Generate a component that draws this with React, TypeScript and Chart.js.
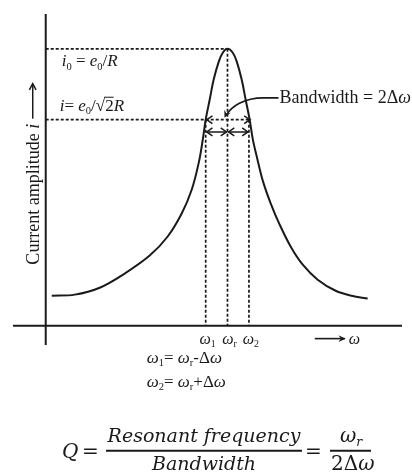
import React, { useEffect, useRef } from "react";
import { Chart, registerables } from "chart.js";

Chart.register(...registerables);

// ---- data ----
const curveX = [3.3, 16.0, 29.7, 43.4, 57.2, 67.1, 74.8, 80.3, 84.2, 86.4, 88.0, 90.2, 92.4, 95.2, 97.4, 100, 102.9, 105.1, 107.8, 110.0, 112.2, 113.9, 116.1, 119.4, 123.8, 128.7, 134.8, 141.4, 149.6, 159.5, 168.3, 177.1];
const curveY = [10.8, 11.2, 13.7, 18.8, 25.3, 32.2, 40.5, 49.1, 58.9, 67.2, 74.4, 81.6, 88.9, 95.4, 98.6, 100, 98.6, 95.4, 88.9, 81.6, 74.4, 67.4, 61.1, 52.4, 44.1, 36.5, 28.5, 22.0, 16.6, 12.6, 10.8, 9.8];
const omegaValues = [88, 100, 111.8];
const omegaSubs = ["1", "r", "2"];
const peakValue = 100;
const halfValue = 74.4;
const arrowRowValue = 70;
const xRange = [-18, 196];
const yRange = [-7, 112.6];

const SERIF = "'Liberation Serif', 'Times New Roman', serif";
const INK = "#1a1a1a";

type Part = { t: string; it?: boolean; sub?: boolean; font?: string };

function partFont(p: Part, size: number, fam: string) {
  const s = p.sub ? size * 0.62 : size;
  return `${p.it ? "italic " : ""}${s}px ${p.font || fam}`;
}
function measureRich(ctx: CanvasRenderingContext2D, parts: Part[], size: number, fam = SERIF) {
  let w = 0;
  for (const p of parts) {
    ctx.font = partFont(p, size, fam);
    w += ctx.measureText(p.t).width;
  }
  return w;
}
function drawRich(ctx: CanvasRenderingContext2D, x: number, y: number, parts: Part[], size: number, fam = SERIF) {
  ctx.textBaseline = "alphabetic";
  ctx.textAlign = "left";
  for (const p of parts) {
    ctx.font = partFont(p, size, fam);
    ctx.fillText(p.t, x, y + (p.sub ? size * 0.22 : 0));
    x += ctx.measureText(p.t).width;
  }
  return x;
}
function chevron(ctx: CanvasRenderingContext2D, x: number, y: number, ang: number, len = 7, spread = 0.6) {
  ctx.beginPath();
  ctx.moveTo(x - len * Math.cos(ang - spread), y - len * Math.sin(ang - spread));
  ctx.lineTo(x, y);
  ctx.lineTo(x - len * Math.cos(ang + spread), y - len * Math.sin(ang + spread));
  ctx.stroke();
}
function filledHead(ctx: CanvasRenderingContext2D, x: number, y: number, ang: number, len = 8, spread = 0.4) {
  ctx.beginPath();
  ctx.moveTo(x, y);
  ctx.lineTo(x - len * Math.cos(ang - spread), y - len * Math.sin(ang - spread));
  ctx.lineTo(x - len * 0.6 * Math.cos(ang), y - len * 0.6 * Math.sin(ang));
  ctx.lineTo(x - len * Math.cos(ang + spread), y - len * Math.sin(ang + spread));
  ctx.closePath();
  ctx.fill();
}

const annotations = {
  id: "annotations",
  afterDatasetsDraw(chart: any) {
    const ctx: CanvasRenderingContext2D = chart.ctx;
    const xs = chart.scales.x;
    const ys = chart.scales.y;
    const px = (v: number) => xs.getPixelForValue(v);
    const py = (v: number) => ys.getPixelForValue(v);
    ctx.save();
    ctx.fillStyle = INK;
    ctx.strokeStyle = INK;
    ctx.lineWidth = 1.5;

    const x0 = px(0);
    const yAxis = py(0);
    const yPeak = py(peakValue);
    const yHalf = py(halfValue);
    const yRow = py(arrowRowValue);
    const w1 = px(omegaValues[0]);
    const wr = px(omegaValues[1]);
    const w2 = px(omegaValues[2]);

    // dimension arrows on the half-power line
    chevron(ctx, w1 + 1, yHalf, Math.PI);
    chevron(ctx, w2 + 1, yHalf, 0);
    ctx.beginPath();
    ctx.moveTo(w1 + 1, yRow); ctx.lineTo(wr - 1, yRow);
    ctx.moveTo(wr + 1, yRow); ctx.lineTo(w2 - 1, yRow);
    ctx.stroke();
    chevron(ctx, w1 + 1, yRow, Math.PI);
    chevron(ctx, wr - 1, yRow, 0);
    chevron(ctx, wr + 1, yRow, Math.PI);
    chevron(ctx, w2 - 1, yRow, 0);

    // bandwidth label with curved pointer
    const bwX = wr + 52;
    const bwY = yPeak + 54;
    drawRich(ctx, bwX, bwY, [{ t: "Bandwidth = 2Δ" }, { t: "ω", it: true }], 18);
    ctx.lineWidth = 1.7;
    ctx.beginPath();
    ctx.moveTo(bwX - 1, bwY - 5);
    ctx.lineTo(bwX - 16, bwY - 5);
    ctx.bezierCurveTo(bwX - 36, bwY - 5, bwX - 48, bwY + 4, bwX - 53, bwY + 12);
    ctx.stroke();
    filledHead(ctx, bwX - 55, bwY + 15, 2.0, 8, 0.45);

    // current labels
    drawRich(ctx, x0 + 16, yPeak + 17, [
      { t: "i", it: true }, { t: "0", sub: true }, { t: " = " }, { t: "e", it: true }, { t: "0", sub: true }, { t: "/" }, { t: "R", it: true },
    ], 17);
    const endSqrt = drawRich(ctx, x0 + 14, yHalf - 9, [
      { t: "i", it: true }, { t: "= " }, { t: "e", it: true }, { t: "0", sub: true }, { t: "/√" },
    ], 17);
    ctx.font = `17px ${SERIF}`;
    const w2w = ctx.measureText("2").width;
    ctx.fillText("2", endSqrt, yHalf - 9);
    ctx.lineWidth = 1;
    ctx.beginPath();
    ctx.moveTo(endSqrt - 1, yHalf - 22.5);
    ctx.lineTo(endSqrt + w2w, yHalf - 22.5);
    ctx.stroke();
    ctx.font = `italic 17px ${SERIF}`;
    ctx.fillText("R", endSqrt + w2w, yHalf - 9);

    // y axis title (rotated)
    ctx.save();
    ctx.translate(x0 - 7, yAxis - 61);
    ctx.rotate(-Math.PI / 2);
    const yl: Part[] = [{ t: "Current amplitude " }, { t: "i", it: true }];
    const ylw = drawRich(ctx, 0, 0, yl, 18);
    ctx.lineWidth = 1.5;
    ctx.beginPath();
    ctx.moveTo(ylw + 5, -6);
    ctx.lineTo(ylw + 39, -6);
    ctx.stroke();
    chevron(ctx, ylw + 40, -6, 0, 7, 0.5);
    ctx.restore();

    // omega tick labels
    omegaValues.forEach((v, i) => {
      const parts: Part[] = [{ t: "ω", it: true }, { t: omegaSubs[i], sub: true }];
      const w = measureRich(ctx, parts, 16);
      drawRich(ctx, px(v) - w / 2 + 2, yAxis + 18, parts, 16);
    });

    // x axis direction arrow
    const axX = px(148);
    ctx.lineWidth = 1.6;
    ctx.beginPath();
    ctx.moveTo(axX, yAxis + 13);
    ctx.lineTo(axX + 30, yAxis + 13);
    ctx.stroke();
    filledHead(ctx, axX + 31, yAxis + 13, 0, 8, 0.42);
    drawRich(ctx, axX + 34, yAxis + 18, [{ t: "ω", it: true }], 16);

    // relations
    drawRich(ctx, w1 - 59, yAxis + 37, [
      { t: "ω", it: true }, { t: "1", sub: true }, { t: "= " }, { t: "ω", it: true }, { t: "r", sub: true }, { t: "-Δ" }, { t: "ω", it: true },
    ], 17);
    drawRich(ctx, w1 - 59, yAxis + 61, [
      { t: "ω", it: true }, { t: "2", sub: true }, { t: "= " }, { t: "ω", it: true }, { t: "r", sub: true }, { t: "+Δ" }, { t: "ω", it: true },
    ], 17);

    // quality factor formula
    const FF = "'DejaVu Serif', serif";
    const fracY = yAxis + 125;
    ctx.font = `italic 20px ${FF}`;
    ctx.fillText("Q", 62, fracY + 7);
    ctx.font = `20px ${FF}`;
    ctx.fillText("=", 82, fracY + 7);
    ctx.fillText("=", 305, fracY + 7);
    ctx.lineWidth = 2;
    ctx.beginPath();
    ctx.moveTo(106, fracY); ctx.lineTo(302, fracY);
    ctx.moveTo(330, fracY); ctx.lineTo(371, fracY);
    ctx.stroke();
    ctx.textAlign = "center";
    ctx.font = `italic 19px ${FF}`;
    ctx.fillText("Resonant frequency", 204, fracY - 9);
    ctx.fillText("Bandwidth", 204, fracY + 19);
    ctx.textAlign = "left";
    drawRich(ctx, 340, fracY - 9, [{ t: "ω", it: true }, { t: "r", it: true, sub: true }], 20, FF);
    drawRich(ctx, 331, fracY + 19, [{ t: "2Δ" }, { t: "ω", it: true }], 20, FF);

    ctx.restore();
  },
};

export default function App() {
  const ref = useRef<HTMLCanvasElement | null>(null);
  useEffect(() => {
    document.body.style.margin = "0";
    const canvas = ref.current!;
    const curve = curveX.map((x, i) => ({ x, y: curveY[i] }));
    const solid = { borderColor: INK, borderWidth: 2, pointRadius: 0, showLine: true, fill: false };
    const dashed = { borderColor: INK, borderWidth: 1.7, borderDash: [3, 2], pointRadius: 0, showLine: true, fill: false };
    const chart = new Chart(canvas, {
      type: "scatter",
      data: {
        datasets: [
          { ...solid, data: [{ x: 0, y: yRange[0] }, { x: 0, y: yRange[1] }] },
          { ...solid, data: [{ x: xRange[0], y: 0 }, { x: xRange[1], y: 0 }] },
          { ...dashed, data: [{ x: 0, y: peakValue }, { x: omegaValues[1], y: peakValue }] },
          { ...dashed, data: [{ x: 0, y: halfValue }, { x: omegaValues[2] + 1.2, y: halfValue }] },
          { ...dashed, data: [{ x: omegaValues[0], y: halfValue }, { x: omegaValues[0], y: 0 }] },
          { ...dashed, data: [{ x: omegaValues[1], y: peakValue }, { x: omegaValues[1], y: 0 }] },
          { ...dashed, data: [{ x: omegaValues[2], y: halfValue }, { x: omegaValues[2], y: 0 }] },
          { ...solid, data: curve, tension: 0.35 },
        ] as any,
      },
      options: {
        animation: false,
        responsive: false,
        devicePixelRatio: 1,
        layout: { padding: { left: 13, right: 10, top: 14, bottom: 127 } },
        scales: {
          x: { type: "linear", min: xRange[0], max: xRange[1], display: false },
          y: { type: "linear", min: yRange[0], max: yRange[1], display: false },
        },
        plugins: { legend: { display: false }, tooltip: { enabled: false } },
        events: [],
      },
      plugins: [annotations],
    });
    return () => chart.destroy();
  }, []);
  return <canvas ref={ref} width={412} height={472} style={{ display: "block", background: "#fff" }} />;
}
